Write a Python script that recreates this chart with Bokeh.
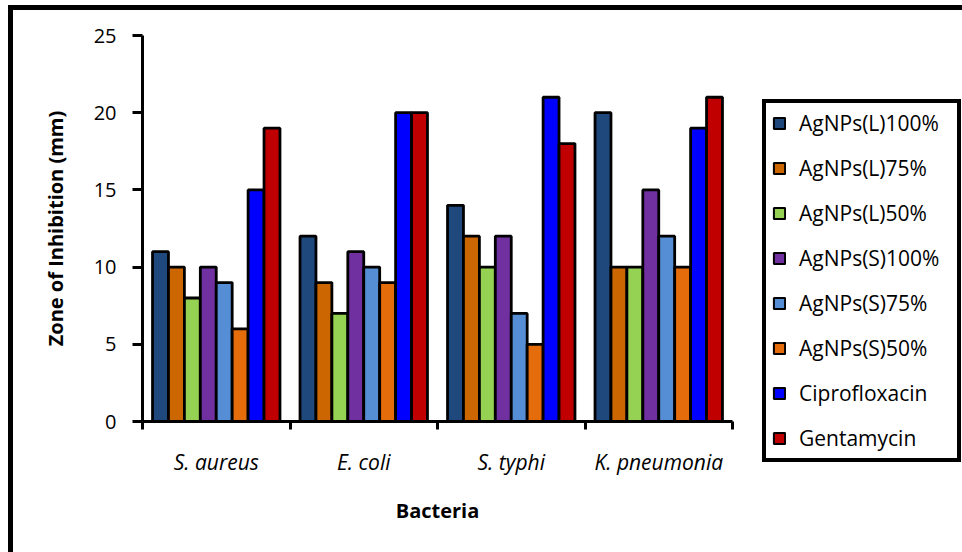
from bokeh.plotting import figure
from bokeh.models import Range1d, FixedTicker, Legend, LegendItem
from bokeh.layouts import row
from bokeh.embed import file_html
from bokeh.resources import INLINE
import numpy as np

# Zone of inhibition (mm) per bacterium
bacteria = ["S. aureus", "E. coli", "S. typhi", "K. pneumonia"]
agnps_l_100 = [11, 12, 14, 20]
agnps_l_75 = [10, 9, 12, 10]
agnps_l_50 = [8, 7, 10, 10]
agnps_s_100 = [10, 11, 12, 15]
agnps_s_75 = [9, 10, 7, 12]
agnps_s_50 = [6, 9, 5, 10]
ciprofloxacin = [15, 20, 21, 19]
gentamycin = [19, 20, 18, 21]

series_names = ["AgNPs(L)100%", "AgNPs(L)75%", "AgNPs(L)50%", "AgNPs(S)100%",
                "AgNPs(S)75%", "AgNPs(S)50%", "Ciprofloxacin", "Gentamycin"]
series_values = [agnps_l_100, agnps_l_75, agnps_l_50, agnps_s_100,
                 agnps_s_75, agnps_s_50, ciprofloxacin, gentamycin]
colors = ["#1F497D", "#CC6600", "#95D152", "#7030A0",
          "#558ED5", "#E46C0A", "#0000FF", "#C00000"]

FONT = "Open Sans"

# ---- main chart ----
p = figure(width=749, height=542, output_backend="svg", toolbar_location=None,
           x_range=Range1d(0, 4), y_range=Range1d(0, 25),
           min_border_left=129, min_border_right=30,
           min_border_top=25, min_border_bottom=131)
p.outline_line_color = None
p.xgrid.visible = False
p.ygrid.visible = False
p.background_fill_color = "white"
p.border_fill_color = "white"

# grouped bars: 8 adjacent bars per bacterium
slot = 0.108
centers = np.arange(len(bacteria)) + 0.5
for i, (vals, col) in enumerate(zip(series_values, colors)):
    xs = centers + (i - 3.5) * slot
    p.vbar(x=xs, top=vals, width=slot, bottom=0,
           fill_color=col, line_color="black", line_width=2.8)

# y axis
ya = p.yaxis[0]
ya.ticker = FixedTicker(ticks=[0, 5, 10, 15, 20, 25], minor_ticks=[])
ya.axis_line_width = 3
ya.major_tick_line_width = 3
ya.major_tick_out = 10
ya.major_tick_in = 0
ya.major_label_standoff = 16
ya.major_label_text_font = FONT
ya.major_label_text_font_size = "20px"
ya.major_label_text_color = "black"
ya.axis_label = "Zone of Inhibition (mm)"
ya.axis_label_text_font = FONT
ya.axis_label_text_font_style = "bold"
ya.axis_label_text_font_size = "20px"
ya.axis_label_text_color = "black"
ya.axis_label_standoff = 22

# x axis: ticks at group boundaries, labels at group centres
xa = p.xaxis[0]
xa.ticker = FixedTicker(ticks=list(centers), minor_ticks=list(range(len(bacteria) + 1)))
xa.major_label_overrides = {float(c): b for c, b in zip(centers, bacteria)}
xa.axis_line_width = 3
xa.major_tick_line_color = None
xa.major_tick_out = 0
xa.major_tick_in = 0
xa.minor_tick_line_width = 3
xa.minor_tick_out = 8
xa.minor_tick_in = 0
xa.major_label_standoff = 18
xa.major_label_text_font = FONT
xa.major_label_text_font_style = "italic"
xa.major_label_text_font_size = "21px"
xa.major_label_text_color = "black"
xa.axis_label = "Bacteria"
xa.axis_label_text_font = FONT
xa.axis_label_text_font_style = "bold"
xa.axis_label_text_font_size = "20px"
xa.axis_label_text_color = "black"
xa.axis_label_standoff = 18

# ---- legend panel: hidden copies of the series supply the swatches ----
lp = figure(width=200, height=542, output_backend="svg", toolbar_location=None,
            x_range=Range1d(0, 4), y_range=Range1d(0, 25),
            x_axis_type=None, y_axis_type=None,
            min_border_left=0, min_border_right=0,
            min_border_top=0, min_border_bottom=0)
if "frame_align" in lp.properties():
    lp.frame_align = False
lp.outline_line_color = None
lp.xgrid.visible = False
lp.ygrid.visible = False
lp.background_fill_color = "white"
lp.border_fill_color = "white"

items = []
for i, (name, vals, col) in enumerate(zip(series_names, series_values, colors)):
    xs = centers + (i - 3.5) * slot
    r = lp.vbar(x=xs, top=vals, width=slot, fill_color=col,
                line_color="black", line_width=2, visible=False)
    items.append(LegendItem(label=name, renderers=[r]))

legend = Legend(items=items, location=(0, 90))
legend.border_line_color = "black"
legend.border_line_alpha = 1.0
legend.border_line_width = 4
legend.padding = 6
legend.spacing = 17
legend.margin = 0
legend.glyph_width = 14
legend.glyph_height = 14
legend.label_height = 20
legend.label_width = 152
legend.label_standoff = 13
legend.label_text_font = FONT
legend.label_text_font_size = "21px"
legend.label_text_color = "black"
legend.background_fill_color = "white"
legend.background_fill_alpha = 1.0
legend.inactive_fill_alpha = 0.0
lp.add_layout(legend, "center")

layout = row(p, lp, spacing=0)
layout.styles = {"margin-left": "8px", "margin-top": "5px",
                 "border-left": "5px solid black", "border-top": "5px solid black"}

open("out.html", "w").write(file_html(layout, INLINE))
